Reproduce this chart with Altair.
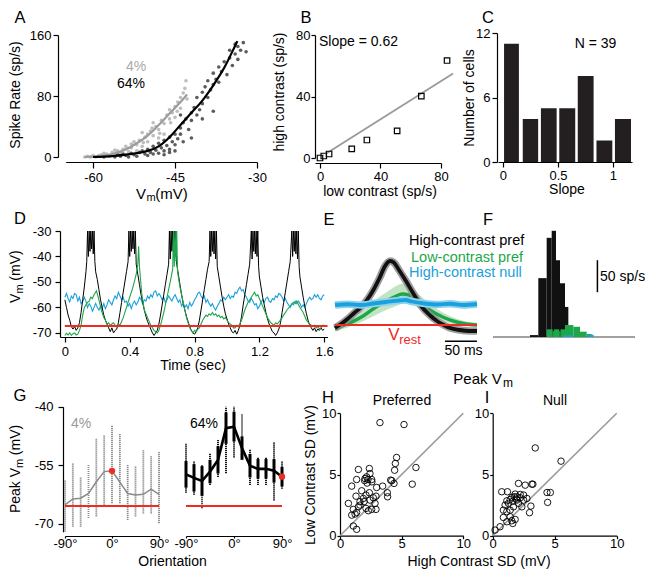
import altair as alt
import pandas as pd

FONT = "Liberation Sans"
W, H = 637, 561
OFF = 8
RED = "#ee2b24"
GREEN = "#1ea64b"
BLUE = "#1aa0dc"

# ---------------- data ----------------
# A: spike rate vs Vm (4% and 64% contrast)
A_LOW = [(-61.5,0),(-61,1),(-60.5,0),(-60,2),(-59.5,0),(-59,1),(-58.5,3),(-58,2),(-57.5,4),(-57,1),
         (-56.5,6),(-56,3),(-55.5,8),(-55,5),(-54.5,10),(-54,14),(-53.5,7),(-53,12),(-52.5,20),(-52,16),
         (-51.5,22),(-51,14),(-50.5,26),(-50,30),(-50,20),(-49.5,34),(-49,28),(-48.5,40),(-48,36),(-47.5,48),
         (-47,44),(-46.5,55),(-46,50),(-46,62),(-45.5,58),(-45,66),(-45,52),(-44.5,72),(-44,78),(-44,64),
         (-43.5,84),(-43.2,90),(-43,100),(-42.8,76),(-47,30),(-52,8),(-55,2),(-49,45),(-51,32),(-48,25),
         (-58,5),(-56,9),(-53,17),(-50.8,19),(-49.2,38),(-47.8,31),(-45.8,45),(-44.6,60)]
A_HIGH = [(-59,1),(-58,0),(-57,2),(-56,0),(-55.5,3),(-55,1),(-54.5,4),(-54,2),(-53.5,0),(-53,5),
          (-52.5,3),(-52,1),(-51.5,6),(-51,8),(-50.5,4),(-50,10),(-49.5,6),(-49,14),(-48.5,9),(-48,18),
          (-48,5),(-47.5,12),(-47,22),(-47,8),(-46.5,15),(-46,26),(-46,10),(-45.5,20),(-45,30),(-45,16),
          (-44.5,24),(-44,38),(-44,30),(-43.5,45),(-43.5,20),(-43,50),(-42.5,36),(-42,58),(-42,48),(-41.5,65),
          (-41,55),(-41,78),(-40.5,62),(-40,85),(-40,70),(-39.5,92),(-39,78),(-39,100),(-38.5,88),(-38,110),
          (-38,95),(-37.5,102),(-37,118),(-37,98),(-36.5,112),(-36,125),(-35.5,108),(-35,130),(-35,140),(-34.5,120),
          (-34,135),(-34,148),(-33.5,128),(-33.5,145),(-33,140),(-32.5,150),(-32,138),(-44,55),(-42,25),(-40,50),
          (-38,60),(-50,2),(-49,4),(-47,3),(-46,6),(-45,8)]
A_LOW_FIT = [(-61.5,0),(-60,0.5),(-58,2),(-56,5),(-54,10),(-52,18),(-50,28),(-48,42),(-46,57),(-44,72),(-42.8,82)]
A_HIGH_FIT = [(-60,0),(-58,0.5),(-56,1.5),(-54,3),(-52,5),(-50,8),(-48,14),(-46,26),(-44,42),(-42,58),
              (-40,74),(-38,94),(-36,117),(-34,146),(-33.6,152)]

# B: high vs low contrast spike rate
B_PTS = [(0,0),(2.5,1.3),(6,2.6),(21,5.9),(31,11.7),(51,17.6),(67,40.3),(84,63.4)]
B_FIT = [(4.4,3.1),(88,54.9)]

# C: histogram of slopes
C_BIN_LO = [0.01,0.18,0.345,0.512,0.68,0.85,1.018]
C_BIN_HI = [0.145,0.32,0.488,0.657,0.824,0.994,1.164]
C_COUNT = [11,4,5,5,8,2,4]

# D: Vm traces (time s, mV)
D_BLACK = [(0,-57),(0.01,-60),(0.02,-63),(0.03,-65),(0.04,-67.5),(0.05,-68.5),(0.06,-67.5),(0.07,-69),(0.08,-68),(0.09,-66),
           (0.10,-62),(0.11,-57),(0.12,-52),(0.13,-46),(0.135,-42),(0.14,-30),(0.145,-40),(0.15,-30),(0.155,-38),(0.16,-30),
           (0.165,-37),(0.17,-30),(0.175,-39),(0.18,-30),(0.185,-42),(0.19,-46),(0.20,-49),(0.21,-53),(0.22,-57),(0.23,-60),
           (0.24,-63),(0.25,-65),(0.26,-66.5),(0.27,-68),(0.28,-69.5),(0.29,-68),(0.30,-70),(0.31,-69),(0.32,-68.5),(0.33,-66),
           (0.34,-62),(0.35,-58),(0.36,-54),(0.37,-50),(0.38,-46),(0.39,-42),(0.395,-30),(0.40,-40),(0.405,-30),(0.41,-38),
           (0.415,-30),(0.42,-37),(0.425,-30),(0.43,-39),(0.435,-30),(0.44,-43),(0.45,-47),(0.46,-51),(0.47,-55),(0.48,-58),
           (0.49,-61),(0.50,-63.5),(0.51,-65.5),(0.52,-67),(0.53,-68.5),(0.54,-70),(0.55,-71),(0.56,-70),(0.57,-69),(0.58,-66.5),
           (0.59,-63),(0.60,-59),(0.61,-55),(0.62,-51),(0.63,-47),(0.64,-43),(0.645,-30),(0.65,-41),(0.655,-30),(0.66,-38),
           (0.665,-30),(0.67,-39),(0.675,-30),(0.68,-40),(0.685,-30),(0.69,-43),(0.70,-47),(0.71,-51),(0.72,-55),(0.73,-58.5),
           (0.74,-61),(0.75,-63.5),(0.76,-65.5),(0.77,-67.5),(0.78,-69),(0.79,-70),(0.80,-70.5),(0.81,-69.5),(0.82,-68),(0.83,-65),
           (0.84,-61),(0.85,-57),(0.86,-53),(0.87,-49),(0.88,-45),(0.89,-42),(0.895,-30),(0.90,-40),(0.905,-30),(0.91,-38),
           (0.915,-30),(0.92,-39),(0.925,-30),(0.93,-41),(0.935,-30),(0.94,-44),(0.95,-48),(0.96,-52),(0.97,-56),(0.98,-59.5),
           (0.99,-62.5),(1.00,-64.5),(1.01,-66.5),(1.02,-68),(1.03,-69.5),(1.04,-70),(1.05,-69),(1.06,-70.5),(1.07,-69),(1.08,-67),
           (1.09,-63.5),(1.10,-59),(1.11,-55),(1.12,-51),(1.13,-47),(1.14,-43),(1.15,-30),(1.155,-41),(1.16,-30),(1.165,-38),
           (1.17,-30),(1.175,-39),(1.18,-30),(1.185,-40),(1.19,-30),(1.195,-44),(1.20,-48),(1.21,-52),(1.22,-56),(1.23,-59),
           (1.24,-62),(1.25,-64.5),(1.26,-66.5),(1.27,-68),(1.28,-69.5),(1.29,-70),(1.30,-71),(1.31,-70),(1.32,-68.5),(1.33,-66),
           (1.34,-62),(1.35,-58),(1.36,-54),(1.37,-50),(1.38,-46),(1.39,-42),(1.40,-30),(1.405,-40),(1.41,-30),(1.415,-38),
           (1.42,-30),(1.425,-39),(1.43,-30),(1.435,-41),(1.44,-30),(1.445,-44),(1.45,-48),(1.46,-52),(1.47,-56),(1.48,-59.5),
           (1.49,-62.5),(1.50,-65),(1.51,-67),(1.52,-68),(1.53,-69),(1.54,-68),(1.55,-69.5),(1.56,-68.5),(1.57,-69),(1.58,-68),
           (1.59,-69),(1.60,-68.5)]
D_GREEN = [(0,-71),(0.01,-70.2),(0.02,-70.8),(0.03,-70),(0.04,-71),(0.05,-70.3),(0.06,-70),(0.07,-70.8),(0.08,-70.5),(0.09,-69),
           (0.10,-67),(0.11,-63),(0.12,-60),(0.13,-59),(0.14,-58),(0.15,-57.5),(0.16,-56),(0.17,-56.5),(0.18,-55),(0.195,-53.5),
           (0.21,-57),(0.225,-61),(0.24,-64),(0.25,-65),(0.26,-66.5),(0.27,-66),(0.28,-67),(0.29,-66.5),(0.30,-66),(0.31,-67),
           (0.32,-67.5),(0.33,-66.5),(0.34,-67),(0.36,-64),(0.38,-60),(0.40,-56),(0.42,-52),(0.44,-47),(0.45,-43),(0.455,-36),
           (0.46,-44),(0.475,-55),(0.49,-61),(0.51,-64),(0.53,-67),(0.54,-68),(0.55,-69),(0.56,-69.5),(0.57,-70),(0.58,-69),
           (0.59,-67),(0.61,-62),(0.63,-56),(0.65,-50),(0.665,-45),(0.67,-30),(0.675,-44),(0.68,-30),(0.685,-42),(0.69,-30),
           (0.695,-46),(0.71,-52),(0.73,-58),(0.75,-64),(0.77,-68),(0.78,-69),(0.79,-70),(0.80,-69),(0.81,-69.5),(0.82,-68.5),
           (0.83,-68),(0.85,-65),(0.87,-63),(0.88,-63.5),(0.89,-62.5),(0.90,-63),(0.91,-62),(0.92,-63),(0.93,-62.5),(0.94,-63.5),
           (0.95,-63),(0.96,-64),(0.97,-63.5),(0.98,-64.5),(0.99,-64),(1.01,-66),(1.03,-67),(1.04,-68),(1.05,-68),(1.06,-67),
           (1.07,-67.5),(1.09,-65),(1.11,-61),(1.13,-58),(1.15,-56),(1.16,-55),(1.17,-54),(1.18,-55.5),(1.19,-55),(1.21,-58),
           (1.23,-61),(1.25,-64),(1.27,-66),(1.28,-66.5),(1.29,-67),(1.30,-66),(1.31,-66.5),(1.33,-65),(1.35,-63),(1.37,-61),
           (1.39,-59.5),(1.41,-58),(1.42,-58.5),(1.43,-57.5),(1.45,-60),(1.47,-62),(1.49,-65),(1.51,-66.5),(1.53,-67.5),(1.54,-67),
           (1.55,-68),(1.56,-67.5),(1.57,-68.5),(1.58,-68),(1.59,-67),(1.60,-67)]
D_BLUE = [(0.00,-56),(0.01,-54.5),(0.02,-56.5),(0.03,-57.8),(0.04,-55.5),(0.05,-56.5),(0.06,-54.5),(0.07,-55),(0.08,-57.5),(0.09,-56),
          (0.10,-58.5),(0.11,-57.8),(0.12,-56),(0.13,-57.5),(0.14,-60),(0.15,-58.5),(0.16,-59.5),(0.17,-61.5),(0.18,-60),(0.19,-58.4),
          (0.20,-60),(0.21,-61),(0.22,-59.5),(0.23,-60.5),(0.24,-58.5),(0.25,-60.5),(0.26,-59),(0.27,-57),(0.28,-58),(0.29,-59),
          (0.30,-57),(0.31,-55.5),(0.32,-56.5),(0.33,-54),(0.34,-55.5),(0.35,-57),(0.36,-56),(0.37,-58),(0.38,-57.5),(0.39,-59.5),
          (0.40,-58.5),(0.41,-60.5),(0.42,-58.5),(0.43,-57.5),(0.44,-59),(0.45,-58),(0.46,-56),(0.47,-57),(0.48,-58.5),(0.49,-57),
          (0.50,-57.5),(0.51,-55.5),(0.52,-56.5),(0.53,-55),(0.54,-56),(0.55,-54),(0.56,-53.5),(0.57,-55.5),(0.58,-54.5),(0.59,-55.5),
          (0.60,-57),(0.61,-56),(0.62,-58),(0.63,-57),(0.64,-55.5),(0.65,-56.5),(0.66,-57.5),(0.67,-56),(0.68,-55),(0.69,-56.5),
          (0.70,-58),(0.71,-57),(0.72,-59.5),(0.73,-58.5),(0.74,-60),(0.75,-59),(0.76,-60.5),(0.77,-58),(0.78,-59.5),(0.79,-58.5),
          (0.80,-57),(0.81,-56),(0.82,-54.5),(0.83,-54),(0.84,-55.5),(0.85,-56.5),(0.86,-55.5),(0.87,-58),(0.88,-57),(0.89,-58.5),
          (0.90,-59.5),(0.91,-58.5),(0.92,-60),(0.93,-61),(0.94,-59.5),(0.95,-58.5),(0.96,-57),(0.97,-57.5),(0.98,-56),(0.99,-57),
          (1.00,-56),(1.01,-55),(1.02,-56.5),(1.03,-55.5),(1.04,-56),(1.05,-54),(1.06,-54.5),(1.07,-53),(1.08,-52),(1.09,-53.5),
          (1.10,-53),(1.11,-55),(1.12,-56),(1.13,-57.5),(1.14,-58),(1.15,-56.5),(1.16,-57.5),(1.17,-59),(1.18,-58.5),(1.19,-60.5),
          (1.20,-59.5),(1.21,-58),(1.22,-57),(1.23,-58),(1.24,-56.5),(1.25,-56),(1.26,-57.5),(1.27,-58),(1.28,-56.5),(1.29,-57),
          (1.30,-55.5),(1.31,-56),(1.32,-54.5),(1.33,-55),(1.34,-56),(1.35,-57.5),(1.36,-56.5),(1.37,-58),(1.38,-59),(1.39,-60),
          (1.40,-58.5),(1.41,-59),(1.42,-57.5),(1.43,-58.5),(1.44,-57.5),(1.45,-58.5),(1.46,-60),(1.47,-59),(1.48,-60),(1.49,-58.5),
          (1.50,-57),(1.51,-56),(1.52,-57),(1.53,-56.5),(1.54,-55),(1.55,-56),(1.56,-55),(1.57,-56.5),(1.58,-57),(1.59,-55.5),
          (1.60,-55)]
D_REST = [(0,-67.3),(1.62,-67.3)]

# E: average cycle (ms, mV above rest)
E_BLACK = [(0,-1.2),(10,0.5),(20,2.5),(30,4.8),(40,7),(50,10),(60,14),(70,19),(78,23.5),(86,25.6),(92,25),(100,22),
           (110,18),(122,12.8),(135,7.5),(148,4),(160,1.5),(170,0),(180,-1.2),(195,-2),(210,-2.4),(222,-2.4)]
E_GREEN_T = [0,20,44,60,80,95,105,115,130,148,170,190,205,222]
E_GREEN = [-1.6,0.5,3.6,6.5,9.5,11.5,12.4,12,9.5,6,3,1.2,0.4,0]
E_GREEN_LO = [-2.6,-1,1.5,3.5,6,7.5,8.5,8.5,7,4,1.5,0,-0.6,-0.8]
E_GREEN_HI = [-0.6,2,5.7,9.5,13,15.5,16.5,15.5,12.5,8.5,4.8,2.5,1.4,0.9]
E_BLUE = [(0,8),(20,8.3),(40,8),(60,8.6),(80,9.2),(100,9.8),(110,10),(120,9.4),(140,8.6),(160,8.2),(180,8.5),(200,8),(222,8.4)]
E_REST = [(0,0),(222,0)]
E_SCALEBAR = [(172,-6.5),(222,-6.5)]

# F: PSTH (bin start ms, bin end ms, sp/s)
F_BLACK = [(88.6,108.5,3),(108.5,128.5,92),(128.5,140.5,155),(140.5,150.9,166),(150.9,160.4,120),(160.4,172.4,84),(172.4,180.4,47)]
F_GREEN = [(128.5,143,12),(143,146,9),(146,158.5,12),(158.5,161.5,9),(161.5,172.4,12),(172.4,192.4,18.7),(192.4,208.3,16),
           (208.3,224.3,8.3),(224.3,236.3,4.7)]
F_BLUE = [(168.4,180.4,2.5),(180.4,192.4,3),(226,241,3.5)]
F_BASE = [(0,0),(340,0)]
F_SCALEBAR = [(250,70),(250,120)]

# G: peak Vm vs orientation
G_ORI = [-90,-75,-60,-45,-30,-15,0,15,30,45,60,75,90]
G4_MEAN = [-65.1,-63.6,-63.4,-62.2,-59.2,-56.6,-56.4,-59.3,-62.2,-62.6,-62.4,-61.1,-62.4]
G4_MIN = [-72,-70.7,-70.7,-68.5,-68.1,-65.6,-64.7,-64.7,-69,-68.1,-67.3,-67.3,-69.8]
G4_MAX = [-58.7,-54.5,-57.9,-54.9,-48.1,-47.2,-44.7,-46.8,-54.9,-55.2,-51.1,-52.6,-51.5]
G64_MEAN = [-57.3,-58.2,-59.0,-56.6,-53.6,-45.5,-45.1,-50.6,-55.1,-55.9,-55.9,-56.4,-57.9]
G64_SD = [3.4,3.5,3.8,3.0,3.5,4.0,3.8,3.0,3.0,2.5,2.5,3.0,2.5]
G64_MIN = [-62,-62.5,-66,-60,-58,-57,-53,-52,-60,-60,-60,-64,-61]
G64_MAX = [-49.5,-54,-55,-52,-48.5,-40,-40,-42,-51,-53,-53,-49,-54]
G_REST = -65.4

# H, I: SD low vs high contrast
H_PTS = [(3.24,9.24),(5.19,9.08),(6.16,5.57),(5.86,4.21),(4.59,6.39),(4.49,5.9),(4.43,5.35),(4.38,4.27),(4.11,4.54),(4.2,4.5),
         (3.84,3.51),(3.86,3.18),(3.46,4.05),(2.97,3.94),(2.92,3.23),(2.38,5.49),(2.43,5.08),(2.16,4.81),(2.03,4.67),(2.27,4.59),
         (2.57,4.59),(2.59,4.4),(1.49,5.41),(1.35,4.59),(0.95,4.05),(1.76,3.67),(2.38,3.51),(2.11,3.32),(1.3,3.23),(1.89,3.04),
         (2.43,2.91),(2.84,2.64),(1.62,2.78),(1.49,2.36),(2.11,2.23),(2.57,2.15),(2.92,2.15),(2.3,2.04),(0.68,2.64),(1.08,2.15),
         (0.95,1.68),(1.22,1.77),(1.35,1.9),(1.08,0.79),(1.35,0.52),(1.62,2.5),(1.95,2.78),(2.0,4.5),(2.2,4.3),(2.7,3.1)]
I_PTS = [(3.43,7.17),(5.51,6.09),(2.08,4.27),(2.62,4.13),(3.16,4.21),(3.24,4.21),(4.38,3.53),(4.65,3.53),(4.43,2.72),(2.97,1.88),
         (3.08,2.42),(2.49,3.32),(2.22,3.37),(1.95,3.18),(1.73,3.18),(1.54,3.13),(1.41,2.96),(1.14,2.85),(0.73,3.59),(1.19,3.59),
         (1.0,2.5),(0.86,2.09),(1.14,1.96),(1.41,2.09),(1.68,2.36),(2.08,2.64),(2.49,2.91),(2.35,2.36),(2.76,3.04),(1.41,1.55),
         (1.54,1.22),(1.81,1.33),(1.62,1.0),(1.14,1.14),(0.59,0.73),(0.19,0.46),(0.86,1.49),(1.95,2.91),(2.22,3.1),(1.27,2.64),
         (1.81,3.4),(1.9,3.0),(1.6,2.8)]
DIAG = [(0,0),(10,10)]

# ---------------- helpers ----------------
def P(v):
    return v - OFF

# panel scales: (domain, page-pixel range)
PANELS = {
    "A": (([-65, -30], (65.7, 257)), ([0, 160], (157, 35))),
    "B": (([-3.3, 80], (315, 441)), ([0, 80], (158, 35))),
    "C": (([-0.045, 1.173], (498, 632)), ([0, 12], (162, 33))),
    "D": (([-0.03, 1.62], (60, 327.5)), ([-71.6, -30], (337, 231))),
    "E": (([0, 222], (335, 477)), ([0, 25], (325, 262.5))),
    "F": (([0, 340], (493, 635)), ([0, 166], (337, 230.8))),
    "G4": (([-90, 90], (65, 159)), ([-72, -40], (531.8, 406.7))),
    "G64": (([-90, 90], (186, 282)), ([-72, -40], (531.8, 406.7))),
    "H": (([0, 10], (340, 463.3)), ([0, 10], (535.7, 413.3))),
    "I": (([0, 10], (492.7, 616.7)), ([0, 10], (535.7, 413.3))),
}

def scale(spec):
    dom, rng = spec
    return alt.Scale(domain=dom, range=[P(rng[0]), P(rng[1])], zero=False, nice=False)

AX = dict(grid=False, title=None, labelFont=FONT, labelFontSize=13, labelColor="black",
          domainColor="black", tickColor="black", domainWidth=1.2, tickWidth=1.2,
          labelFlush=False, labelOverlap=False, labelBound=False)

def xax(page_y, vals, expr="'' + datum.value", tick=5, pad=2):
    return alt.Axis(orient="bottom", offset=P(page_y) - H, values=vals, labelExpr=expr,
                    tickSize=tick, labelPadding=pad, **AX)

def yax(page_x, vals, expr="'' + datum.value", tick=5, pad=2):
    return alt.Axis(orient="left", offset=-P(page_x), values=vals, labelExpr=expr,
                    tickSize=tick, labelPadding=pad, **AX)

def enc(pan, xf="x", yf="y", xaxis=None, yaxis=None, **extra):
    xs, ys = PANELS[pan]
    e = dict(x=alt.X(f"{xf}:Q", scale=scale(xs), axis=xaxis),
             y=alt.Y(f"{yf}:Q", scale=scale(ys), axis=yaxis))
    e.update(extra)
    return e

def pts(pairs):
    return pd.DataFrame(pairs, columns=["x", "y"])

def bins(triples):
    df = pd.DataFrame(triples, columns=["x", "x2", "y"])
    df["y0"] = 0
    return df

ONE = pd.DataFrame({"k": [0]})

def txt(s, x, y, size=14, color="black", align="center", angle=0, weight="normal"):
    return alt.Chart(ONE).mark_text(text=s, font=FONT, fontSize=size, color=color, align=align,
                                    baseline="middle", angle=angle, fontWeight=weight).encode(
        x=alt.value(P(x)), y=alt.value(P(y)))

layers = []

# ---------------- A ----------------
layers.append(alt.Chart(pts(A_LOW)).mark_circle(size=13, color="#bdbdbd", opacity=1).encode(
    **enc("A", xaxis=xax(162, [-60, -45, -30], tick=6, pad=3), yaxis=yax(58, [0, 80, 160]))))
layers.append(alt.Chart(pts(A_HIGH)).mark_circle(size=13, color="#5c5c5c", opacity=1).encode(**enc("A")))
layers.append(alt.Chart(pts(A_LOW_FIT)).mark_line(color="#9c9c9c", strokeWidth=2.2, interpolate="monotone").encode(**enc("A")))
layers.append(alt.Chart(pts(A_HIGH_FIT)).mark_line(color="black", strokeWidth=2.2, interpolate="monotone").encode(**enc("A")))

# ---------------- B ----------------
layers.append(alt.Chart(pts(B_FIT)).mark_line(color="#9a9a9a", strokeWidth=1.8).encode(
    **enc("B", xaxis=xax(163, [0, 40, 80]), yaxis=yax(315, [0, 40, 80], tick=4, pad=1))))
layers.append(alt.Chart(pts(B_PTS)).mark_point(shape="square", filled=False, size=30, color="black",
                                               strokeWidth=1.2, opacity=1).encode(**enc("B")))

# ---------------- C ----------------
c_df = pd.DataFrame({"x": C_BIN_LO, "x2": C_BIN_HI, "y": C_COUNT, "y0": 0})
layers.append(alt.Chart(c_df).mark_bar(color="#231f20").encode(
    **enc("C", xaxis=xax(162, [0, 0.5, 1]), yaxis=yax(497, [0, 6, 12]),
          x2=alt.X2("x2:Q"), y2=alt.Y2("y0:Q"))))

# ---------------- D ----------------
layers.append(alt.Chart(pts(D_BLUE)).mark_line(color=BLUE, strokeWidth=1.1).encode(
    **enc("D", xaxis=xax(337, [0, 0.4, 0.8, 1.2, 1.6], tick=5, pad=3),
          yaxis=yax(60, [-70, -60, -50, -40, -30], tick=5, pad=4))))
layers.append(alt.Chart(pts(D_BLACK)).mark_line(color="black", strokeWidth=1.0).encode(**enc("D")))
layers.append(alt.Chart(pts(D_GREEN)).mark_line(color=GREEN, strokeWidth=1.1).encode(**enc("D")))
layers.append(alt.Chart(pts(D_REST)).mark_line(color=RED, strokeWidth=2).encode(**enc("D")))

# ---------------- E ----------------
eg = pd.DataFrame({"x": E_GREEN_T, "y": E_GREEN, "lo": E_GREEN_LO, "hi": E_GREEN_HI})
layers.append(alt.Chart(eg).mark_area(color="#b7dfb8", opacity=0.85, interpolate="monotone").encode(
    **enc("E", yf="lo", y2=alt.Y2("hi:Q"))))
layers.append(alt.Chart(eg).mark_line(color=GREEN, strokeWidth=3.5, interpolate="monotone").encode(**enc("E")))
layers.append(alt.Chart(pts(E_BLACK)).mark_line(color="#8d8d8d", strokeWidth=7.5, opacity=0.85, interpolate="monotone").encode(**enc("E")))
layers.append(alt.Chart(pts(E_BLACK)).mark_line(color="#111111", strokeWidth=3.8, interpolate="monotone").encode(**enc("E")))
layers.append(alt.Chart(pts(E_BLUE)).mark_line(color="#8fd2f0", strokeWidth=7.5, interpolate="monotone").encode(**enc("E")))
layers.append(alt.Chart(pts(E_BLUE)).mark_line(color=BLUE, strokeWidth=3.8, interpolate="monotone").encode(**enc("E")))
layers.append(alt.Chart(pts(E_REST)).mark_line(color=RED, strokeWidth=2).encode(**enc("E")))
layers.append(alt.Chart(pts(E_SCALEBAR)).mark_line(color="black", strokeWidth=1.5).encode(**enc("E")))

# ---------------- F ----------------
layers.append(alt.Chart(pts(F_BASE)).mark_line(color="#444444", strokeWidth=1).encode(**enc("F")))
for data, col in ((F_BLACK, "#111111"), (F_GREEN, GREEN), (F_BLUE, BLUE)):
    layers.append(alt.Chart(bins(data)).mark_bar(color=col).encode(
        **enc("F", x2=alt.X2("x2:Q"), y2=alt.Y2("y0:Q"))))
layers.append(alt.Chart(pts(F_SCALEBAR)).mark_line(color="black", strokeWidth=1.5).encode(**enc("F")))

# ---------------- G ----------------
g4 = pd.DataFrame({"x": G_ORI, "y": G4_MEAN, "lo": G4_MIN, "hi": G4_MAX})
g64 = pd.DataFrame({"x": G_ORI, "y": G64_MEAN, "lo": G64_MIN, "hi": G64_MAX, "sd": G64_SD})
g64["m_lo"] = g64["y"] - g64["sd"]
g64["m_hi"] = g64["y"] + g64["sd"]
g_rest = pd.DataFrame({"x": [-90, 90], "y": [G_REST, G_REST]})
deg = "datum.value + '°'"

layers.append(alt.Chart(g4).mark_rule(color="#8a8a8a", strokeWidth=1.8, strokeDash=[1.2, 0.8]).encode(
    **enc("G4", yf="lo", xaxis=xax(536, [-90, 0, 90], deg, tick=2, pad=-1),
          yaxis=yax(63, [-70, -55, -40], tick=5, pad=5), y2=alt.Y2("hi:Q"))))
layers.append(alt.Chart(g4).mark_line(color="#8a8a8a", strokeWidth=1.5).encode(**enc("G4")))
layers.append(alt.Chart(g_rest).mark_line(color=RED, strokeWidth=2).encode(**enc("G4")))
layers.append(alt.Chart(g4[g4["x"] == 0]).mark_circle(color=RED, size=40, opacity=1).encode(**enc("G4")))

layers.append(alt.Chart(g64).mark_rule(color="black", strokeWidth=1.8, strokeDash=[1.2, 0.8]).encode(
    **enc("G64", yf="lo", xaxis=xax(536, [-90, 0, 90], deg, tick=2, pad=-1), y2=alt.Y2("hi:Q"))))
layers.append(alt.Chart(g64).mark_rule(color="black", strokeWidth=3).encode(
    **enc("G64", yf="m_lo", y2=alt.Y2("m_hi:Q"))))
layers.append(alt.Chart(g64).mark_line(color="black", strokeWidth=2.6).encode(**enc("G64")))
layers.append(alt.Chart(g_rest).mark_line(color=RED, strokeWidth=2).encode(**enc("G64")))
layers.append(alt.Chart(g64[g64["x"] == 90]).mark_circle(color=RED, size=40, opacity=1).encode(**enc("G64")))

# ---------------- H / I ----------------
layers.append(alt.Chart(pts(DIAG)).mark_line(color="#9a9a9a", strokeWidth=1.6).encode(
    **enc("H", xaxis=xax(535.7, [0, 5, 10], tick=3, pad=-1), yaxis=yax(340, [0, 5, 10], tick=3, pad=1))))
layers.append(alt.Chart(pts(H_PTS)).mark_point(shape="circle", filled=False, size=42, color="black",
                                               strokeWidth=0.9, opacity=1).encode(**enc("H")))
layers.append(alt.Chart(pts(DIAG)).mark_line(color="#9a9a9a", strokeWidth=1.6).encode(
    **enc("I", xaxis=xax(535.7, [0, 5, 10], tick=3, pad=-1), yaxis=yax(492.7, [0, 5, 10], tick=3, pad=1))))
layers.append(alt.Chart(pts(I_PTS)).mark_point(shape="circle", filled=False, size=42, color="black",
                                               strokeWidth=0.9, opacity=1).encode(**enc("I")))

# ---------------- text ----------------
for s, x, y in (("A", 20, 18), ("B", 306, 18), ("C", 488, 18), ("D", 20, 219), ("E", 329, 220),
                ("F", 488, 220), ("G", 20, 396), ("H", 328, 398), ("I", 487, 398)):
    layers.append(txt(s, x, y, size=16.5))

layers += [
    txt("Spike Rate (sp/s)", 16, 95, angle=270),
    txt("V", 141, 193.5, size=15), txt("m", 151, 198, size=11), txt("(mV)", 171.5, 193.5, size=15),
    txt("4%", 136, 67, color="#aaaaaa"), txt("64%", 131, 84),
    txt("Slope = 0.62", 319, 41.5, align="left"),
    txt("high contrast (sp/s)", 280, 92, angle=270),
    txt("low contrast (sp/s)", 380, 192),
    txt("N = 39", 595.5, 44),
    txt("Number of cells", 470, 98, angle=270),
    txt("Slope", 567, 190),
    txt("V", 16, 298.3, angle=270), txt("m", 20, 289, size=11, angle=270), txt("(mV)", 16, 265.5, angle=270),
    txt("Time (sec)", 193, 366),
    txt("High-contrast pref", 409, 241, size=14.5, align="left"),
    txt("Low-contrast pref", 411, 257.5, size=14.5, align="left", color=GREEN),
    txt("High-contrast null", 409, 272.5, size=14.5, align="left", color=BLUE),
    txt("V", 394, 335, size=17, color=RED), txt("rest", 410, 340, size=13, color=RED),
    txt("50 ms", 463.5, 351),
    txt("50 sp/s", 600, 276.5, align="left"),
    txt("Peak V", 477.5, 379, size=15), txt("m", 508, 383, size=12),
    txt("4%", 81, 424, color="#999999"), txt("64%", 204, 424),
    txt("Peak V", 16, 490.5, angle=270), txt("m", 20, 463.5, size=11, angle=270), txt("(mV)", 16, 440, angle=270),
    txt("Orientation", 172.5, 562),
    txt("Preferred", 402, 401), txt("Null", 555, 401),
    txt("Low Contrast SD (mV)", 311, 475, angle=270),
    txt("High Contrast SD (mV)", 479, 561.5),
]

chart = alt.layer(*layers).resolve_scale(x="independent", y="independent").properties(
    width=W, height=H, padding=0, autosize=alt.AutoSizeParams(type="none")
).configure_view(stroke=None)

chart.save("out.html", embed_options={"renderer": "svg", "actions": False})
